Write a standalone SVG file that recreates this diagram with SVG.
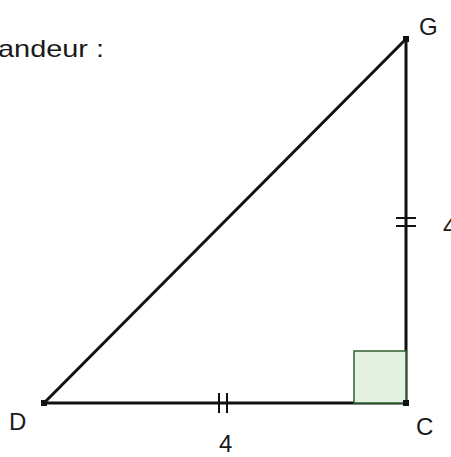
<svg xmlns="http://www.w3.org/2000/svg" width="451" height="457" viewBox="0 0 451 457">
<style>
.lbl{font-family:"Liberation Sans",Arial,sans-serif;font-size:24px;fill:#1a1a1a}
.seg{stroke:#111;stroke-width:3;fill:none;stroke-linecap:butt}
.tick{stroke:#111;stroke-width:2;fill:none}
</style>
<rect width="451" height="457" fill="#fff"/>
<text class="lbl" x="-2" y="57" textLength="106" lengthAdjust="spacingAndGlyphs" fill="#333">andeur :</text>
<g id="connectors">
<line class="seg" x1="44" y1="403" x2="406" y2="403"/>
<line class="seg" x1="406" y1="403" x2="406" y2="39"/>
<line class="seg" x1="44" y1="403" x2="406" y2="39"/>
<line class="tick" x1="219" y1="393" x2="219" y2="413"/>
<line class="tick" x1="227" y1="393" x2="227" y2="413"/>
<line class="tick" x1="396" y1="218" x2="416" y2="218"/>
<line class="tick" x1="396" y1="226" x2="416" y2="226"/>
</g>
<g id="angle-C">
<rect x="354" y="351" width="52" height="52" fill="#e3f1e3" stroke="#2f5f2f" stroke-width="1.5"/>
</g>
<g id="node-G"><rect x="403" y="36" width="6" height="6" fill="#111"/><text class="lbl" x="419" y="35">G</text></g>
<g id="node-C"><rect x="403" y="400" width="6" height="6" fill="#111"/><text class="lbl" x="416" y="435">C</text></g>
<g id="node-D"><rect x="41" y="400" width="6" height="6" fill="#111"/><text class="lbl" x="9" y="430">D</text></g>
<g id="label-DC"><text class="lbl" x="219" y="452">4</text></g>
<g id="label-GC"><text class="lbl" x="443" y="235">4</text></g>
</svg>
